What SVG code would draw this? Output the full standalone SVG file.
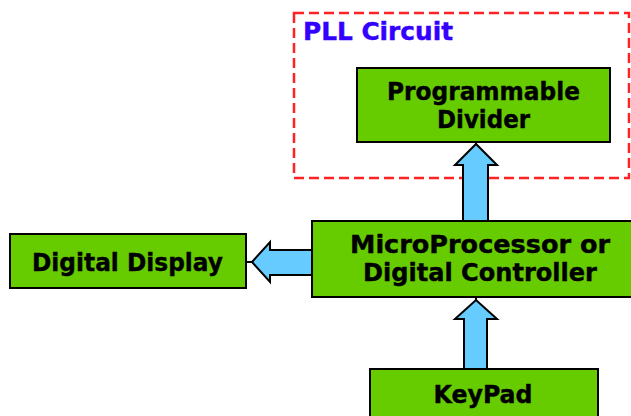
<svg xmlns="http://www.w3.org/2000/svg" width="631" height="416" viewBox="0 0 631 416">
<style>
.box{fill:#66cc00;stroke:#000;stroke-width:2}
.lbl{font-family:"DejaVu Sans","Liberation Sans",sans-serif;font-weight:bold;font-size:25px;fill:#000;stroke:#000;stroke-width:0.4}
.arr{fill:#66ccff;stroke:#000;stroke-width:2;stroke-linejoin:miter}
.tip{stroke:#000;stroke-width:2}
</style>
<rect width="631" height="416" fill="#fff"/>
<g id="pll-circuit">
<rect x="294" y="13" width="335" height="165" fill="none" stroke="#ff2222" stroke-width="2.5" stroke-dasharray="10,5"/>
<text x="303" y="40" font-family="DejaVu Sans, sans-serif" font-weight="bold" font-size="24" fill="#3300ff" stroke="#3300ff" stroke-width="0.4" textLength="150" lengthAdjust="spacingAndGlyphs">PLL Circuit</text>
</g>
<g id="connectors">
<polygon class="arr" points="463,221 463,165 455,165 476,144 497,165 488,165 488,221"/>
<line class="tip" x1="476" y1="142" x2="476" y2="145"/>
<polygon class="arr" points="464,369 464,319 455,319 476,300 497,319 487,319 487,369"/>
<line class="tip" x1="476" y1="297" x2="476" y2="301"/>
<polygon class="arr" points="312,250 270,250 270,242 252,262 270,282 270,275 312,275"/>
<line class="tip" x1="246" y1="262" x2="253" y2="262"/>
</g>
<g id="programmable-divider">
<rect class="box" x="357" y="68" width="253" height="74"/>
<text class="lbl" x="483.5" y="100" text-anchor="middle" textLength="193" lengthAdjust="spacingAndGlyphs">Programmable</text>
<text class="lbl" x="483.5" y="128" text-anchor="middle" textLength="93" lengthAdjust="spacingAndGlyphs">Divider</text>
</g>
<g id="microprocessor">
<rect class="box" x="312" y="221" width="336" height="76"/>
<text class="lbl" x="480" y="253" text-anchor="middle" textLength="260" lengthAdjust="spacingAndGlyphs">MicroProcessor or</text>
<text class="lbl" x="480" y="281" text-anchor="middle" textLength="234" lengthAdjust="spacingAndGlyphs">Digital Controller</text>
</g>
<g id="digital-display">
<rect class="box" x="10" y="234" width="236" height="54"/>
<text class="lbl" x="127.5" y="271" text-anchor="middle" textLength="191" lengthAdjust="spacingAndGlyphs">Digital Display</text>
</g>
<g id="keypad">
<rect class="box" x="370" y="369" width="228" height="60"/>
<text class="lbl" x="483" y="403" text-anchor="middle" textLength="99" lengthAdjust="spacingAndGlyphs">KeyPad</text>
</g>
</svg>
